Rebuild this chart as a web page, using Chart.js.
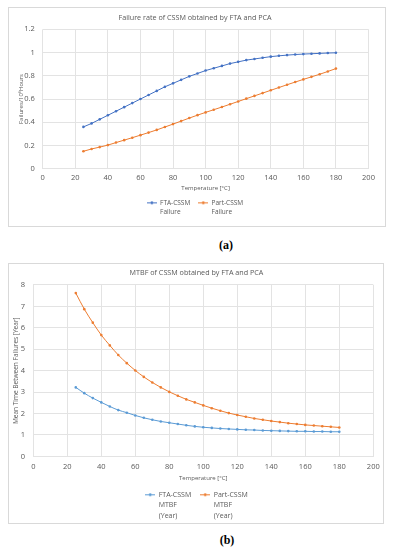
<!DOCTYPE html>
<html>
<head>
<meta charset="utf-8">
<script src="https://cdn.jsdelivr.net/npm/chart.js@4.4.0/dist/chart.umd.min.js"></script>
<style>
  body { margin: 0; background: #fff; width: 393px; height: 550px; position: relative; overflow: hidden; }
  .box { position: absolute; border: 1px solid #d9d9d9; box-sizing: border-box; }
  canvas { position: absolute; left: 0; }
  .cap { position: absolute; width: 60px; text-align: center; font: bold 12px "Liberation Serif", serif; color: #000; line-height: 12px; }
</style>
</head>
<body>
<div class="box" style="left:8px;top:7px;width:378px;height:220px"></div>
<div class="box" style="left:8px;top:263px;width:376px;height:261px"></div>
<canvas id="chartA" width="393" height="232" style="top:0"></canvas>
<canvas id="chartB" width="393" height="272" style="top:256px"></canvas>
<div class="cap" style="left:196px;top:239px">(a)</div>
<div class="cap" style="left:197px;top:534px">(b)</div>
<script>
// temperatures in degrees C
const temps = [25, 30, 35, 40, 45, 50, 55, 60, 65, 70, 75, 80, 85, 90, 95, 100,
  105, 110, 115, 120, 125, 130, 135, 140, 145, 150, 155, 160, 165, 170, 175, 180];

// failure rate (failures / 10^6 hours)
const failFTA = [0.36, 0.39, 0.425, 0.46, 0.495, 0.53, 0.565, 0.6, 0.635, 0.67, 0.705, 0.735,
  0.765, 0.795, 0.82, 0.845, 0.865, 0.885, 0.905, 0.92, 0.935, 0.945, 0.955, 0.965,
  0.972, 0.978, 0.983, 0.987, 0.99, 0.993, 0.996, 0.998];
const failPart = [0.15, 0.17, 0.186, 0.203, 0.225, 0.246, 0.267, 0.289, 0.311, 0.334, 0.359, 0.384,
  0.41, 0.436, 0.461, 0.485, 0.508, 0.531, 0.555, 0.579, 0.603, 0.627, 0.651, 0.675,
  0.699, 0.723, 0.746, 0.769, 0.791, 0.813, 0.837, 0.862];

// MTBF (years)
const mtbfFTA = [3.22, 2.95, 2.72, 2.52, 2.33, 2.16, 2.04, 1.91, 1.8, 1.71, 1.63, 1.57,
  1.51, 1.45, 1.4, 1.36, 1.33, 1.3, 1.28, 1.26, 1.24, 1.23, 1.21, 1.2,
  1.19, 1.18, 1.17, 1.17, 1.16, 1.16, 1.15, 1.15];
const mtbfPart = [7.62, 6.87, 6.24, 5.66, 5.18, 4.73, 4.35, 4.01, 3.71, 3.45, 3.22, 3.01,
  2.83, 2.66, 2.52, 2.38, 2.25, 2.13, 2.02, 1.93, 1.85, 1.77, 1.71, 1.65,
  1.6, 1.55, 1.51, 1.47, 1.44, 1.41, 1.38, 1.35];

const labelsA = [['FTA-CSSM', 'Failure'], ['Part-CSSM', 'Failure']];
const labelsB = [['FTA-CSSM', 'MTBF', '(Year)'], ['Part-CSSM', 'MTBF', '(Year)']];

const FONT = '"Open Sans", sans-serif';
const TXT = '#595959';
const GRID = '#e3e3e3';

// little "line with a dot" marker for the legend
function marker(color) {
  const c = document.createElement('canvas');
  c.width = 10; c.height = 5;
  const g = c.getContext('2d');
  g.strokeStyle = color; g.lineWidth = 1;
  g.beginPath(); g.moveTo(0, 2.5); g.lineTo(10, 2.5); g.stroke();
  g.fillStyle = color;
  g.beginPath(); g.arc(5, 2.5, 1.4, 0, Math.PI * 2); g.fill();
  return c;
}

// multi-line legend text; measured by its longest line
function lines(arr) {
  const t = arr.slice();
  const longest = arr.reduce((a, b) => (a.length >= b.length ? a : b));
  t.toString = () => longest;
  return t;
}

// legend clips to its own box, give the extra text lines room below it
const legendRoom = {
  id: 'legendRoom',
  beforeDraw(chart) {
    const l = chart.legend;
    l.bottom = chart.height;
    l.height = l.bottom - l.top;
  }
};

function series(label, ys, color) {
  return {
    label: label,
    data: temps.map((t, i) => ({x: t, y: ys[i]})),
    borderColor: color,
    backgroundColor: color,
    borderWidth: 1,
    pointRadius: 1.3,
    pointBorderWidth: 0,
    pointBackgroundColor: color,
    cubicInterpolationMode: 'monotone',
    fill: false,
    markerImg: marker(color)
  };
}

function build(id, o) {
  new Chart(document.getElementById(id), {
    type: 'line',
    data: {datasets: o.datasets},
    plugins: [legendRoom],
    options: {
      responsive: false,
      devicePixelRatio: 1,
      animation: false,
      events: [],
      layout: {padding: {left: o.padL, right: o.padR, top: 0, bottom: o.padB}},
      plugins: {
        title: {
          display: true, text: o.title, color: TXT,
          font: {family: FONT, size: 7.2, weight: 'normal', lineHeight: 1.2},
          padding: {top: o.titleTop, bottom: o.titleBottom}
        },
        legend: {
          position: 'bottom',
          labels: {
            color: TXT,
            font: {family: FONT, size: o.legendSize, lineHeight: o.legendLH},
            padding: o.legendPad,
            usePointStyle: true,
            pointStyleWidth: 10,
            generateLabels: chart => chart.data.datasets.map((ds, i) => ({
              text: lines(o.legendText[i]),
              fillStyle: ds.borderColor,
              strokeStyle: ds.borderColor,
              fontColor: TXT,
              lineWidth: 0,
              pointStyle: ds.markerImg,
              datasetIndex: i
            }))
          }
        },
        tooltip: {enabled: false}
      },
      scales: {
        x: {
          type: 'linear', min: 0, max: 200,
          ticks: {stepSize: 20, color: TXT, font: {family: FONT, size: 7.5}, padding: o.xTickPad},
          grid: {color: GRID, drawTicks: false},
          border: {color: GRID},
          title: {display: true, text: 'Temperature [°C]', color: TXT,
            font: {family: FONT, size: 6}, padding: {top: 0, bottom: 0}},
          afterFit: s => { s.height = o.xH; }
        },
        y: {
          min: 0, max: o.yMax,
          ticks: {stepSize: o.yStep, color: TXT, font: {family: FONT, size: 7.5}, padding: o.yTickPad,
            callback: v => String(Math.round(v * 10) / 10)},
          grid: {color: GRID, drawTicks: false},
          border: {display: false},
          title: {display: true, text: o.yTitle, color: TXT,
            font: {family: FONT, size: o.yTitleSize}, padding: {top: o.yTitlePad, bottom: 0}},
          afterFit: s => { s.width = o.yW; }
        }
      }
    }
  });
}

build('chartA', {
  title: 'Failure rate of CSSM obtained by FTA and PCA',
  datasets: [series('FTA-CSSM Failure', failFTA, '#4472C4'), series('Part-CSSM Failure', failPart, '#ED7D31')],
  legendText: labelsA,
  padL: 21.5, padR: 24.5, padB: 15.9, yW: 21.2, yTitlePad: -3.4, yTickPad: 8, yTitleSize: 6,
  titleTop: 13.7, titleBottom: 7,
  xH: 22.9, xTickPad: 4.8,
  legendPad: 8, legendLH: 1.4, legendSize: 6.5,
  yMax: 1.2, yStep: 0.2, yTitle: 'Failures/10⁶Hours'
});

build('chartB', {
  title: 'MTBF of CSSM obtained by FTA and PCA',
  datasets: [series('FTA-CSSM MTBF (Year)', mtbfFTA, '#5B9BD5'), series('Part-CSSM MTBF (Year)', mtbfPart, '#ED7D31')],
  legendText: labelsB,
  padL: 19.7, padR: 19.7, padB: 19.7, yW: 13.6, yTitlePad: -7.3, yTickPad: 8.3, yTitleSize: 6.5,
  titleTop: 12.7, titleBottom: 7.6,
  xH: 25.9, xTickPad: 5.5,
  legendPad: 9, legendLH: 1.5, legendSize: 7,
  yMax: 8, yStep: 1, yTitle: 'Mean Time Between Failures [Year]'
});
</script>
</body>
</html>
